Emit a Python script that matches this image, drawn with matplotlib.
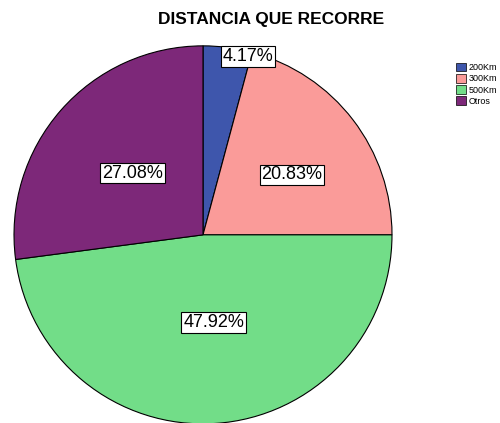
import matplotlib
matplotlib.use("Agg")
import matplotlib.pyplot as plt
from matplotlib.patches import Patch
import numpy as np

categories = ["200Km", "300Km", "500Km", "Otros"]
percentages = [4.17, 20.83, 47.92, 27.08]
colors = ["#3e56ac", "#fa9b99", "#72dd88", "#7d2879"]
title = "DISTANCIA QUE RECORRE"

plt.rcParams['font.family'] = ['Liberation Sans', 'DejaVu Sans']

fig = plt.figure(figsize=(5, 4.23), dpi=100)
ax = fig.add_axes([0.028, -0.002, 0.756, 0.8936])
wedges, texts = ax.pie(percentages, colors=colors, startangle=90, counterclock=False,
                       radius=1.0, center=(0, 0),
                       wedgeprops=dict(edgecolor="black", linewidth=0.8))
ax.set_xlim(-1, 1)
ax.set_ylim(-1, 1)
ax.set_aspect("equal")
ax.axis("off")

# label placement: (radius, angle offset in degrees, x shift)
label_place = [(0.972, -6.7, 0.0), (0.568, -3.6, 0.0), (0.466, 0.0, 0.026), (0.495, 0.0, 0.0)]
for w, p, (r, da, dx) in zip(wedges, percentages, label_place):
    ang = np.deg2rad((w.theta1 + w.theta2) / 2 + da)
    x = r * np.cos(ang) + dx
    y = r * np.sin(ang)
    ax.text(x, y, f"{p:.2f}%", ha="center", va="center", fontsize=13,
            bbox=dict(boxstyle="square,pad=0.1", facecolor="white", edgecolor="black", linewidth=0.8))

fig.text(0.543, 0.953, title, ha="center", va="center", fontsize=12.5, fontweight="bold")

handles = [Patch(facecolor=c, edgecolor="black", linewidth=0.5, label=l) for c, l in zip(colors, categories)]
fig.legend(handles=handles, loc="upper left", bbox_to_anchor=(0.912, 0.852), frameon=False,
           fontsize=6.5, handlelength=1.12, handleheight=1.12, handletextpad=0.3, labelspacing=0.2,
           borderaxespad=0, borderpad=0)

fig.savefig("out.png", dpi=100)
